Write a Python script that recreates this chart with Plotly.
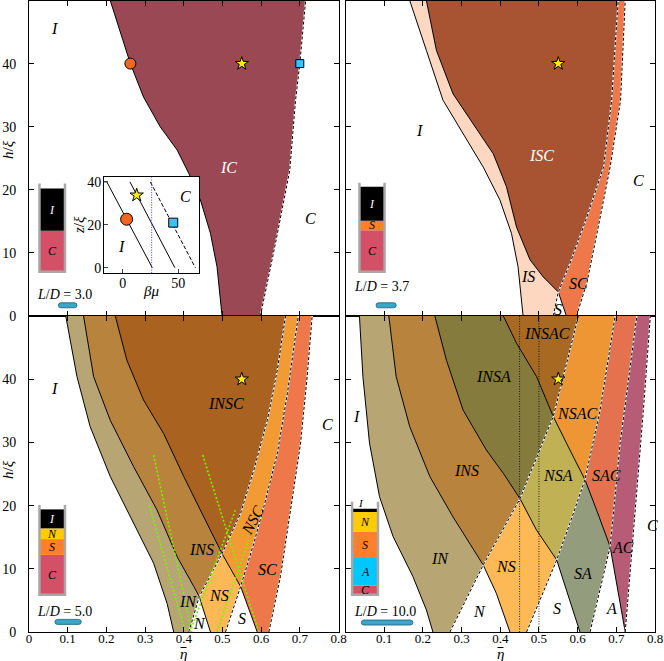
import plotly.graph_objects as go

# ---------------- data (boundaries, listed with ascending h/xi) ----------------
# panel (a)  L/D = 3.0
a_L1_y = [0, 7.8, 13.1, 18.4, 22.6, 26.3, 30.0, 34.7, 40.0, 50]
a_L1_x = [0.499, 0.486, 0.469, 0.443, 0.413, 0.383, 0.339, 0.296, 0.262, 0.210]
a_L2_y = [0, 11.5, 23.1, 34.2, 40.0, 50]
a_L2_x = [0.598, 0.637, 0.674, 0.689, 0.700, 0.715]

# panel (b)  L/D = 3.7
b_L1_y = [0, 7.8, 13.1, 18.4, 23.6, 28.9, 34.2, 42.1, 50]
b_L1_x = [0.459, 0.446, 0.429, 0.399, 0.356, 0.304, 0.252, 0.209, 0.166]
b_L2_y = [0, 3.8, 6.2, 8.9, 14.1, 20.5, 25.7, 30.5, 35.2, 42.1, 50]
b_L2_x = [0.571, 0.550, 0.511, 0.477, 0.442, 0.416, 0.382, 0.330, 0.278, 0.235, 0.209]
b_L3_y = [0, 3.8, 8.3, 15.7, 23.6, 34.2, 44.7, 50]
b_L3_x = [0.537, 0.550, 0.580, 0.624, 0.667, 0.688, 0.699, 0.705]
b_L4_y = [0, 5.3, 13.1, 23.6, 34.2, 50]
b_L4_x = [0.597, 0.624, 0.650, 0.684, 0.711, 0.723]

# panel (c)  L/D = 5.0
c_L1_y = [0, 4.5, 10.9, 17.2, 24.6, 32.5, 40.4, 50]
c_L1_x = [0.374, 0.357, 0.322, 0.270, 0.210, 0.158, 0.124, 0.095]
c_L2_y = [0, 5.6, 7.2, 11.9, 19.3, 26.2, 33.5, 40.4, 50]
c_L2_x = [0.469, 0.440, 0.426, 0.383, 0.331, 0.270, 0.210, 0.167, 0.141]
c_L3_y = [0, 7.2, 12.4, 18.2, 24.6, 31.4, 36.7, 43.0, 50]
c_L3_x = [0.590, 0.547, 0.499, 0.452, 0.400, 0.348, 0.296, 0.253, 0.223]
c_L4_y = [0, 5.6, 12.4, 18.8, 25.6, 33.5, 41.5, 50]
c_L4_x = [0.413, 0.440, 0.499, 0.547, 0.581, 0.616, 0.642, 0.663]
c_L5_y = [0, 7.2, 14.0, 19.8, 28.3, 37.8, 50]
c_L5_x = [0.508, 0.547, 0.581, 0.607, 0.642, 0.668, 0.696]
c_L6_y = [0, 8.8, 19.3, 29.9, 40.4, 50]
c_L6_x = [0.620, 0.650, 0.676, 0.702, 0.719, 0.732]
# green dotted guide lines in (c)
c_green = [
    ([0.322, 0.421], [28.0, 0]),
    ([0.311, 0.404], [20.1, 0]),
    ([0.416, 0.534], [0, 19.4]),
    ([0.449, 0.594], [28.0, 0]),
    ([0.486, 0.568], [0, 14.6]),
]

# panel (d)  L/D = 10.0
d_L1_y = [0, 3.5, 8.8, 15.1, 21.4, 29.9, 40.4, 50]
d_L1_x = [0.226, 0.209, 0.174, 0.123, 0.088, 0.062, 0.045, 0.036]
d_L2_y = [0, 6.1, 10.6, 14.0, 18.2, 24.6, 32.5, 40.4, 50]
d_L2_x = [0.425, 0.390, 0.356, 0.321, 0.278, 0.218, 0.166, 0.131, 0.112]
d_L4_y = [0, 10.6, 21.1, 27.7, 34.1, 40.4, 50]
d_L4_x = [0.270, 0.356, 0.451, 0.494, 0.537, 0.563, 0.602]
d_L5_y = [0, 11.4, 16.1, 21.1, 25.1, 28.8, 35.1, 43.0, 50]
d_L5_x = [0.606, 0.546, 0.494, 0.451, 0.408, 0.364, 0.304, 0.261, 0.231]
d_L6_y = [0, 11.4, 17.2, 24.1, 35.1, 50]
d_L6_x = [0.468, 0.546, 0.580, 0.619, 0.658, 0.697]
d_L7_y = [0, 6.1, 13.5, 19.3, 24.1, 28.8, 34.1, 40.4, 45.7, 50]
d_L7_x = [0.723, 0.705, 0.684, 0.649, 0.619, 0.580, 0.537, 0.494, 0.442, 0.408]
d_L8_y = [0, 13.5, 29.9, 50]
d_L8_x = [0.632, 0.684, 0.710, 0.753]
d_L9_y = [0, 19.3, 35.1, 50]
d_L9_x = [0.723, 0.749, 0.770, 0.788]
d_vlines = [0.45, 0.50]

# inset of (a): z/xi vs beta*mu
ins_s1_x = [-17, -14.5, 26.6]
ins_s1_y = [40, 40, 0]
ins_s2_x = [6.4, 47.0]
ins_s2_y = [40, 0]
ins_d_x = [24.8, 65.5]
ins_d_y = [40, 0]
ins_vline = 26.0

# markers
star_pt = (0.55, 40)
a_circle = (0.262, 40)
a_square = (0.70, 40)
ins_circle = (3.4, 22.6)
ins_star = (12.5, 33.8)
ins_square = (45.5, 21.0)

# column legend bars: (phase, bottom, top)
bar_a = [("C", 7.0, 13.5), ("I", 13.5, 20.2)]
bar_b = [("C", 7.0, 13.6), ("S", 13.6, 15.1), ("I", 15.1, 20.5)]
bar_c = [("C", 5.9, 12.2), ("S", 12.2, 14.7), ("N", 14.7, 16.4), ("I", 16.4, 19.4)]
bar_d = [("C", 5.9, 7.3), ("A", 7.3, 11.7), ("S", 11.7, 15.9), ("N", 15.9, 19.0), ("I", 19.0, 19.5)]
LD = ["3.0", "3.7", "5.0", "10.0"]

x_ticks = [0, 0.1, 0.2, 0.3, 0.4, 0.5, 0.6, 0.7, 0.8]
x_text = ["0", "0.1", "0.2", "0.3", "0.4", "0.5", "0.6", "0.7", "0.8"]
y_ticks = [0, 10, 20, 30, 40]

# ---------------- helpers ----------------
def seg(xs, ys, y0, y1):
    lo, hi = min(y0, y1), max(y0, y1)
    pts = [(x, y) for x, y in zip(xs, ys) if lo - 1e-9 <= y <= hi + 1e-9]
    return pts[::-1] if y0 > y1 else pts

def poly(*parts):
    pts = [p for part in parts for p in part]
    return [p[0] for p in pts], [p[1] for p in pts]

fig = go.Figure()
AX = {"a": ("x", "y"), "b": ("x2", "y2"), "c": ("x3", "y3"), "d": ("x4", "y4"), "i": ("x5", "y5")}

def fill(p, xy, color):
    xa, ya = AX[p]
    fig.add_trace(go.Scatter(x=xy[0], y=xy[1], mode="lines", fill="toself", fillcolor=color,
                             line=dict(width=0), hoverinfo="skip", xaxis=xa, yaxis=ya))

def solid(p, xs, ys, color="black", width=1):
    xa, ya = AX[p]
    fig.add_trace(go.Scatter(x=xs, y=ys, mode="lines", line=dict(color=color, width=width),
                             hoverinfo="skip", xaxis=xa, yaxis=ya))

def dashed(p, xs, ys):
    xa, ya = AX[p]
    fig.add_trace(go.Scatter(x=xs, y=ys, mode="lines", line=dict(color="white", width=1.4),
                             hoverinfo="skip", xaxis=xa, yaxis=ya))
    fig.add_trace(go.Scatter(x=xs, y=ys, mode="lines", line=dict(color="black", width=1, dash="3px,2px"),
                             hoverinfo="skip", xaxis=xa, yaxis=ya))

def marker(p, pt, symbol, color, size):
    xa, ya = AX[p]
    fig.add_trace(go.Scatter(x=[pt[0]], y=[pt[1]], mode="markers", hoverinfo="skip",
                             marker=dict(symbol=symbol, color=color, size=size,
                                         line=dict(color="black", width=1)),
                             xaxis=xa, yaxis=ya))

# ---------------- panel (a) ----------------
A1, A2 = (a_L1_x, a_L1_y), (a_L2_x, a_L2_y)
fill("a", poly(seg(*A1, 50, 0), seg(*A2, 0, 50)), "#9a4853")
solid("a", *A1)
dashed("a", *A2)
# white box behind inset
ibx = [0.194, 0.440, 6.8, 22.0]
fill("a", ([ibx[0], ibx[1], ibx[1], ibx[0]], [ibx[2], ibx[2], ibx[3], ibx[3]]), "white")
marker("a", a_circle, "circle", "#f5661c", 11)
marker("a", star_pt, "star", "#ffee00", 10)
marker("a", a_square, "square", "#36c4f2", 8)

# ---------------- panel (b) ----------------
B1, B2, B3, B4 = (b_L1_x, b_L1_y), (b_L2_x, b_L2_y), (b_L3_x, b_L3_y), (b_L4_x, b_L4_y)
fill("b", poly(seg(*B1, 50, 0), seg(*B3, 0, 3.8), seg(*B2, 3.8, 50)), "#fdd7c0")
fill("b", poly(seg(*B2, 50, 3.8), seg(*B3, 3.8, 50)), "#a85433")
fill("b", poly(seg(*B2, 3.8, 0), seg(*B4, 0, 50), seg(*B3, 50, 3.8)), "#ef784b")
solid("b", *B1)
solid("b", *B2)
dashed("b", *B3)
dashed("b", *B4)
marker("b", star_pt, "star", "#ffee00", 10)

# ---------------- panel (c) ----------------
C1, C2, C3 = (c_L1_x, c_L1_y), (c_L2_x, c_L2_y), (c_L3_x, c_L3_y)
C4, C5, C6 = (c_L4_x, c_L4_y), (c_L5_x, c_L5_y), (c_L6_x, c_L6_y)
fill("c", poly(seg(*C1, 50, 0), seg(*C4, 0, 5.6), seg(*C2, 5.6, 50)), "#b7a673")
fill("c", poly(seg(*C2, 50, 5.6), seg(*C4, 5.6, 12.4), seg(*C3, 12.4, 50)), "#b8833c")
fill("c", poly(seg(*C2, 5.6, 0), seg(*C5, 0, 7.2), seg(*C3, 7.2, 12.4), seg(*C4, 12.4, 5.6)), "#fdb955")
fill("c", poly(seg(*C3, 50, 12.4), seg(*C4, 12.4, 50)), "#a9621f")
fill("c", poly(seg(*C4, 12.4, 50), seg(*C5, 50, 7.2), seg(*C3, 7.2, 12.4)), "#f29b35")
fill("c", poly(seg(*C3, 7.2, 0), seg(*C6, 0, 50), seg(*C5, 50, 7.2)), "#ef784b")
for L in (C1, C2, C3):
    solid("c", *L)
for L in (C4, C5, C6):
    dashed("c", *L)
for gx, gy in c_green:
    xa, ya = AX["c"]
    fig.add_trace(go.Scatter(x=gx, y=gy, mode="lines", hoverinfo="skip", xaxis=xa, yaxis=ya,
                             line=dict(color="#7df000", width=1.6, dash="2px,2px")))
marker("c", star_pt, "star", "#ffee00", 10)

# ---------------- panel (d) ----------------
D1, D2, D4 = (d_L1_x, d_L1_y), (d_L2_x, d_L2_y), (d_L4_x, d_L4_y)
D5, D6, D7 = (d_L5_x, d_L5_y), (d_L6_x, d_L6_y), (d_L7_x, d_L7_y)
D8, D9 = (d_L8_x, d_L8_y), (d_L9_x, d_L9_y)
fill("d", poly(seg(*D1, 50, 0), seg(*D4, 0, 10.6), seg(*D2, 10.6, 50)), "#b7a673")
fill("d", poly(seg(*D2, 50, 10.6), seg(*D4, 10.6, 21.1), seg(*D5, 21.1, 50)), "#b8833c")
fill("d", poly(seg(*D2, 10.6, 0), seg(*D6, 0, 11.4), seg(*D5, 11.4, 21.1), seg(*D4, 21.1, 10.6)), "#fdb955")
fill("d", poly(seg(*D5, 50, 21.1), seg(*D4, 21.1, 34.1), seg(*D7, 34.1, 50)), "#857b3d")
fill("d", poly(seg(*D4, 21.1, 34.1), seg(*D7, 34.1, 24.1), seg(*D6, 24.1, 11.4), seg(*D5, 11.4, 21.1)), "#bfb154")
fill("d", poly(seg(*D5, 11.4, 0), seg(*D8, 0, 13.5), seg(*D7, 13.5, 24.1), seg(*D6, 24.1, 11.4)), "#949c7e")
fill("d", poly(seg(*D7, 50, 34.1), seg(*D4, 34.1, 50)), "#a86a23")
fill("d", poly(seg(*D4, 34.1, 50), seg(*D6, 50, 24.1), seg(*D7, 24.1, 34.1)), "#ee9634")
fill("d", poly(seg(*D6, 50, 24.1), seg(*D7, 24.1, 13.5), seg(*D8, 13.5, 50)), "#e4724f")
fill("d", poly(seg(*D8, 50, 13.5), seg(*D7, 13.5, 0), seg(*D9, 0, 50)), "#b65c77")
for L in (D1, D2, D5, D7):
    solid("d", *L)
for L in (D4, D6, D8, D9):
    dashed("d", *L)
for vx in d_vlines:
    xa, ya = AX["d"]
    fig.add_trace(go.Scatter(x=[vx, vx], y=[0, 50], mode="lines", hoverinfo="skip", xaxis=xa, yaxis=ya,
                             line=dict(color="black", width=0.8, dash="1px,1.5px")))
marker("d", star_pt, "star", "#ffee00", 10)

# ---------------- inset ----------------
solid("i", ins_s1_x, ins_s1_y)
solid("i", ins_s2_x, ins_s2_y)
xa, ya = AX["i"]
fig.add_trace(go.Scatter(x=ins_d_x, y=ins_d_y, mode="lines", hoverinfo="skip", xaxis=xa, yaxis=ya,
                         line=dict(color="black", width=1, dash="4px,2px")))
fig.add_trace(go.Scatter(x=[ins_vline, ins_vline], y=[-2.5, 42.2], mode="lines", hoverinfo="skip",
                         xaxis=xa, yaxis=ya, line=dict(color="#3c3cff", width=1, dash="1px,1.5px")))
marker("i", ins_circle, "circle", "#f5661c", 12)
marker("i", ins_star, "star", "#ffee00", 10)
marker("i", ins_square, "square", "#36c4f2", 9)

# ---------------- layout ----------------
XL = [29 / 664, 338.5 / 664]
XR = [345.5 / 664, 655 / 664]
YT = [(661 - 316) / 661, (661 - 0.5) / 661]
YB = [(661 - 632) / 661, (661 - 316) / 661]

FONT = "Liberation Serif"
tickfont = dict(family=FONT, size=14, color="black")

def xax(dom, anchor, labels):
    return dict(domain=dom, anchor=anchor, range=[0, 0.8], showline=True, linecolor="black",
                linewidth=1, mirror="ticks", ticks="inside", ticklen=5, tickcolor="black",
                tickvals=x_ticks, ticktext=labels, showticklabels=labels is not None,
                ticklabelstandoff=-6, showgrid=False, zeroline=False,
                tickfont=dict(family=FONT, size=13, color="black"))

def yax(dom, anchor, show):
    return dict(domain=dom, anchor=anchor, range=[0, 50], showline=True, linecolor="black",
                linewidth=1, mirror="ticks", ticks="inside", ticklen=5, tickcolor="black",
                tickvals=y_ticks, showticklabels=show, ticklabelstandoff=9, showgrid=False,
                zeroline=False, tickfont=tickfont)

d_labels = [""] + x_text[1:]

# inset domain computed from its box in panel (a) data coordinates
def to_paper_x(v, dom):
    return dom[0] + v / 0.8 * (dom[1] - dom[0])

def to_paper_y(v, dom):
    return dom[0] + v / 50 * (dom[1] - dom[0])

ins_dx = [to_paper_x(ibx[0], XL), to_paper_x(ibx[1], XL)]
ins_dy = [to_paper_y(ibx[2], YT), to_paper_y(ibx[3], YT)]

layout = dict(
    width=664, height=661, margin=dict(l=0, r=0, t=0, b=0, autoexpand=False),
    plot_bgcolor="white", paper_bgcolor="white", showlegend=False,
    xaxis=xax(XL, "y", None), yaxis=yax(YT, "x", True),
    xaxis2=xax(XR, "y2", None), yaxis2=yax(YT, "x2", False),
    xaxis3=xax(XL, "y3", x_text), yaxis3=yax(YB, "x3", True),
    xaxis4=xax(XR, "y4", d_labels), yaxis4=yax(YB, "x4", False),
    xaxis5=dict(domain=ins_dx, anchor="y5", range=[-17, 69], showline=True, linecolor="black",
                mirror=True, ticks="inside", ticklen=4, tickvals=[0, 50], showgrid=False,
                ticklabelstandoff=-3, zeroline=False,
                tickfont=dict(family=FONT, size=14, color="black")),
    yaxis5=dict(domain=ins_dy, anchor="x5", range=[-2.5, 42.2], showline=True, linecolor="black",
                mirror=True, ticks="inside", ticklen=4, tickvals=[0, 20, 40], showgrid=False,
                ticklabelstandoff=-1, zeroline=False,
                tickfont=dict(family=FONT, size=14, color="black")),
)
fig.update_layout(**layout)

ann = []
def lab(p, text, x, y, size=16, color="black", angle=0, italic=True, **kw):
    xa, ya = AX[p]
    t = f"<i>{text}</i>" if italic else text
    ann.append(dict(x=x, y=y, xref=xa, yref=ya, text=t, showarrow=False, textangle=angle,
                    font=dict(family=FONT, size=size, color=color), **kw))

# region labels
for p, t, x, y, c in [
    ("a", "I", 0.067, 45.5, "black"), ("a", "IC", 0.516, 23.6, "white"), ("a", "C", 0.728, 15.5, "black"),
    ("b", "I", 0.192, 29.4, "black"), ("b", "ISC", 0.507, 25.5, "white"), ("b", "C", 0.757, 21.5, "black"),
    ("b", "IS", 0.472, 6.3, "black"), ("b", "SC", 0.601, 5.2, "black"), ("b", "S", 0.550, 1.1, "black"),
    ("c", "I", 0.067, 38.6, "black"), ("c", "INSC", 0.508, 36.2, "black"), ("c", "C", 0.771, 32.8, "black"),
    ("c", "INS", 0.447, 13.0, "black"), ("c", "SC", 0.616, 9.9, "black"), ("c", "NS", 0.490, 5.7, "black"),
    ("c", "IN", 0.411, 4.8, "black"), ("c", "N", 0.441, 1.4, "black"), ("c", "S", 0.551, 2.2, "black"),
    ("d", "I", 0.028, 34.1, "black"), ("d", "INSAC", 0.520, 47.2, "black"), ("d", "INSA", 0.382, 40.4, "black"),
    ("d", "NSAC", 0.598, 34.5, "black"), ("d", "INS", 0.313, 25.6, "black"), ("d", "NSA", 0.550, 24.8, "black"),
    ("d", "SAC", 0.674, 24.8, "black"), ("d", "C", 0.793, 16.9, "black"), ("d", "IN", 0.244, 11.7, "black"),
    ("d", "NS", 0.416, 10.3, "black"), ("d", "AC", 0.718, 13.4, "black"), ("d", "SA", 0.615, 9.3, "black"),
    ("d", "N", 0.347, 3.2, "black"), ("d", "S", 0.546, 3.7, "black"), ("d", "A", 0.688, 3.7, "black"),
]:
    lab(p, t, x, y, color=c)
lab("c", "NSC", 0.577, 17.7, angle=-62)
lab("i", "I", -1, 9.8, size=16)
lab("i", "C", 57, 33, size=16)

# panel letters
for p, t, x in [("a", "(a)", 0.805), ("b", "(b)", 0.812), ("c", "(c)", 0.805), ("d", "(d)", 0.812)]:
    lab(p, f"<b>{t}</b>", x, 2.6, size=14, italic=False, xanchor="right")

# column legend bars
bar_cols = {"I": "black", "N": "#ffcc00", "S": "#ff7f2a", "A": "#00c8ff", "C": "#d35066"}
shapes = []
for p, bar, x0, x1, legs in [("a", bar_a, 0.027, 0.093, 21.0), ("b", bar_b, 0.036, 0.101, 21.1),
                             ("c", bar_c, 0.027, 0.093, 20.1), ("d", bar_d, 0.017, 0.084, 20.6)]:
    xa, ya = AX[p]
    for ph, b0, b1 in bar:
        shapes.append(dict(type="rect", xref=xa, yref=ya, x0=x0, x1=x1, y0=b0, y1=b1,
                           fillcolor=bar_cols[ph], line=dict(width=0), layer="above"))
        if b1 - b0 > 1:
            lab(p, ph, (x0 + x1) / 2, (b0 + b1) / 2, size=12,
                color="white" if ph == "I" else "black")
    bot = bar[0][1]
    shapes.append(dict(type="path", xref=xa, yref=ya, layer="above",
                       path=f"M {x0},{legs} L {x0},{bot} L {x1},{bot} L {x1},{legs}",
                       line=dict(color="#a8a8a8", width=2.5)))
lab("d", "I", 0.040, 20.4, size=11)

# L/D text and rods
rx, ry = 2.5 * 0.8 / 309.5, 2.5 * 50 / 316
for p, ld, tx, ty, r0, r1, ryc in [("a", LD[0], 0.092, 3.4, 0.076, 0.124, 1.7),
                                   ("b", LD[1], 0.092, 4.6, 0.079, 0.131, 1.7),
                                   ("c", LD[2], 0.093, 3.2, 0.067, 0.135, 1.6),
                                   ("d", LD[3], 0.101, 3.2, 0.041, 0.174, 1.5)]:
    xa, ya = AX[p]
    lab(p, f"<i>L</i>/<i>D</i> = {ld}", tx, ty, size=14, italic=False)
    path = (f"M {r0 + rx},{ryc - ry} L {r1 - rx},{ryc - ry} Q {r1},{ryc - ry} {r1},{ryc} "
            f"Q {r1},{ryc + ry} {r1 - rx},{ryc + ry} L {r0 + rx},{ryc + ry} "
            f"Q {r0},{ryc + ry} {r0},{ryc} Q {r0},{ryc - ry} {r0 + rx},{ryc - ry} Z")
    shapes.append(dict(type="path", xref=xa, yref=ya, path=path, fillcolor="#3aa6c8",
                       line=dict(color="#1d5f78", width=0.8), layer="above"))

# axis titles
def paper_text(text, px, py, size=15, angle=0):
    ann.append(dict(x=px / 664, y=(661 - py) / 661, xref="paper", yref="paper", text=text,
                    xanchor="center", yanchor="middle", showarrow=False, textangle=angle,
                    font=dict(family=FONT, size=size, color="black")))

paper_text("<i>h</i>/<i>ξ</i>", 8, 150, angle=-90)
paper_text("<i>h</i>/<i>ξ</i>", 8, 470, angle=-90)
for cx in (183, 500):
    paper_text("<i>η</i>", cx, 654)
    # bar over eta
    shapes.append(dict(type="line", xref="paper", yref="paper", x0=(cx - 2.5) / 664, x1=(cx + 3.5) / 664,
                       y0=(661 - 647.5) / 661, y1=(661 - 647.5) / 661, line=dict(color="black", width=1)))
# inset axis titles
paper_text("<i>βμ</i>", 151, 291)
paper_text("<i>z</i>/<i>ξ</i>", 79, 225, angle=-90)

fig.update_layout(annotations=ann, shapes=shapes)
fig.write_html("out.html", post_script="document.body.style.margin='0px';",
               config={"displayModeBar": False})
